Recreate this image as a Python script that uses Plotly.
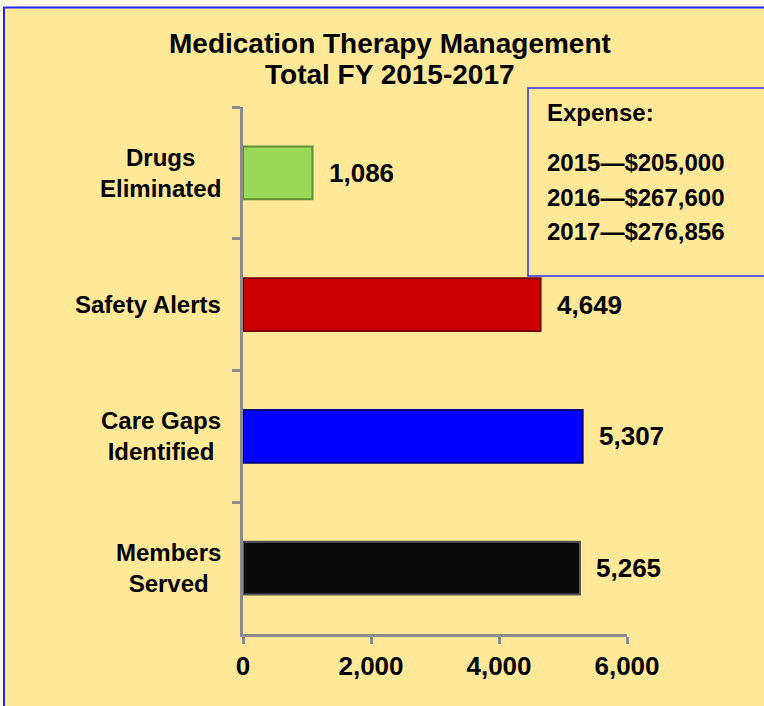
import plotly.graph_objects as go

# chart data (top to bottom)
categories = ["Drugs<br>Eliminated", "Safety Alerts", "Care Gaps<br>Identified", "Members<br>Served"]
values = [1086, 4649, 5307, 5265]
value_labels = ["1,086", "4,649", "5,307", "5,265"]
bar_colors = ["#99D957", "#CC0000", "#0000FF", "#0A0A0A"]
edge_colors = ["#5E8F32", "#7A0000", "#00008C", "#555555"]
x_ticks = [0, 2000, 4000, 6000]
x_ticktext = ["0", "2,000", "4,000", "6,000"]
title_lines = ["Medication Therapy Management", "Total FY 2015-2017"]
expense_lines = ["2015\u2014$205,000", "2016\u2014$267,600", "2017\u2014$276,856"]

W, H = 764, 706
L, R, T, B = 243, 627, 107, 634
FONT = "Arial, Liberation Sans, sans-serif"
BG = "#FFE999"


def px_x(p):
    return (p - L) / (R - L)


def px_y(p):
    return (B - p) / (B - T)


fig = go.Figure()
fig.add_trace(go.Bar(
    y=categories, x=values, orientation="h", width=0.4,
    marker=dict(color=bar_colors, line=dict(color=edge_colors, width=2)),
    hoverinfo="skip",
))

# value labels next to bars
for c, v, t in zip(categories, values, value_labels):
    fig.add_annotation(x=v, y=c, text=t, showarrow=False, xanchor="left", xshift=14,
                       font=dict(family=FONT, size=26, color="black", weight="bold"))

# category labels (centered lines)
for c in categories:
    fig.add_annotation(x=0, xref="paper", y=c, text=c, showarrow=False, xanchor="right",
                       xshift=-20, align="center",
                       font=dict(family=FONT, size=24, color="black", weight="bold"))

# title, two lines
for i, line in enumerate(title_lines):
    fig.add_annotation(x=px_x(390), y=px_y(44 + 30 * i), xref="paper", yref="paper", text=line,
                       showarrow=False, xanchor="center", yanchor="middle",
                       font=dict(family=FONT, size=28, color="black", weight="bold"))

# outer framed background
fig.add_shape(type="rect", xref="paper", yref="paper", layer="below",
              x0=px_x(4), x1=px_x(800), y0=px_y(740), y1=px_y(7.5),
              fillcolor=BG, line=dict(color="#2424FF", width=2))

# expense box
fig.add_shape(type="rect", xref="paper", yref="paper",
              x0=px_x(528), x1=px_x(800), y0=px_y(276), y1=px_y(88),
              fillcolor=BG, line=dict(color="#3030F0", width=1.5))
fig.add_annotation(x=px_x(545), y=px_y(113), xref="paper", yref="paper", text="Expense:",
                   showarrow=False, xanchor="left", yanchor="middle",
                   font=dict(family=FONT, size=24, color="black", weight="bold"))
for i, line in enumerate(expense_lines):
    fig.add_annotation(x=px_x(545), y=px_y(163 + 34 * i), xref="paper", yref="paper", text=line,
                       showarrow=False, xanchor="left", yanchor="middle",
                       font=dict(family=FONT, size=24, color="black", weight="bold"))

fig.update_layout(
    width=W, height=H,
    margin=dict(l=L, r=W - R, t=T, b=H - B),
    paper_bgcolor="#FFF7E4", plot_bgcolor=BG,
    showlegend=False,
    xaxis=dict(range=[0, 6000], tickvals=x_ticks, ticktext=x_ticktext,
               showgrid=False, zeroline=False, showline=True, linecolor="#8C8C8C", linewidth=3,
               ticks="outside", ticklen=7, tickwidth=3, tickcolor="#8C8C8C",
               tickfont=dict(family=FONT, size=26, color="black", weight="bold")),
    yaxis=dict(autorange="reversed", showgrid=False, zeroline=False, showline=True,
               linecolor="#8C8C8C", linewidth=3, ticks="outside", ticklen=8, tickwidth=3,
               tickcolor="#8C8C8C", tickson="boundaries", showticklabels=False),
)

# drop the default page margin so the figure sits at the window's top-left corner
fig.write_html("out.html", config={"displayModeBar": False},
               post_script="document.body.style.margin='0';document.body.style.overflow='hidden';")
